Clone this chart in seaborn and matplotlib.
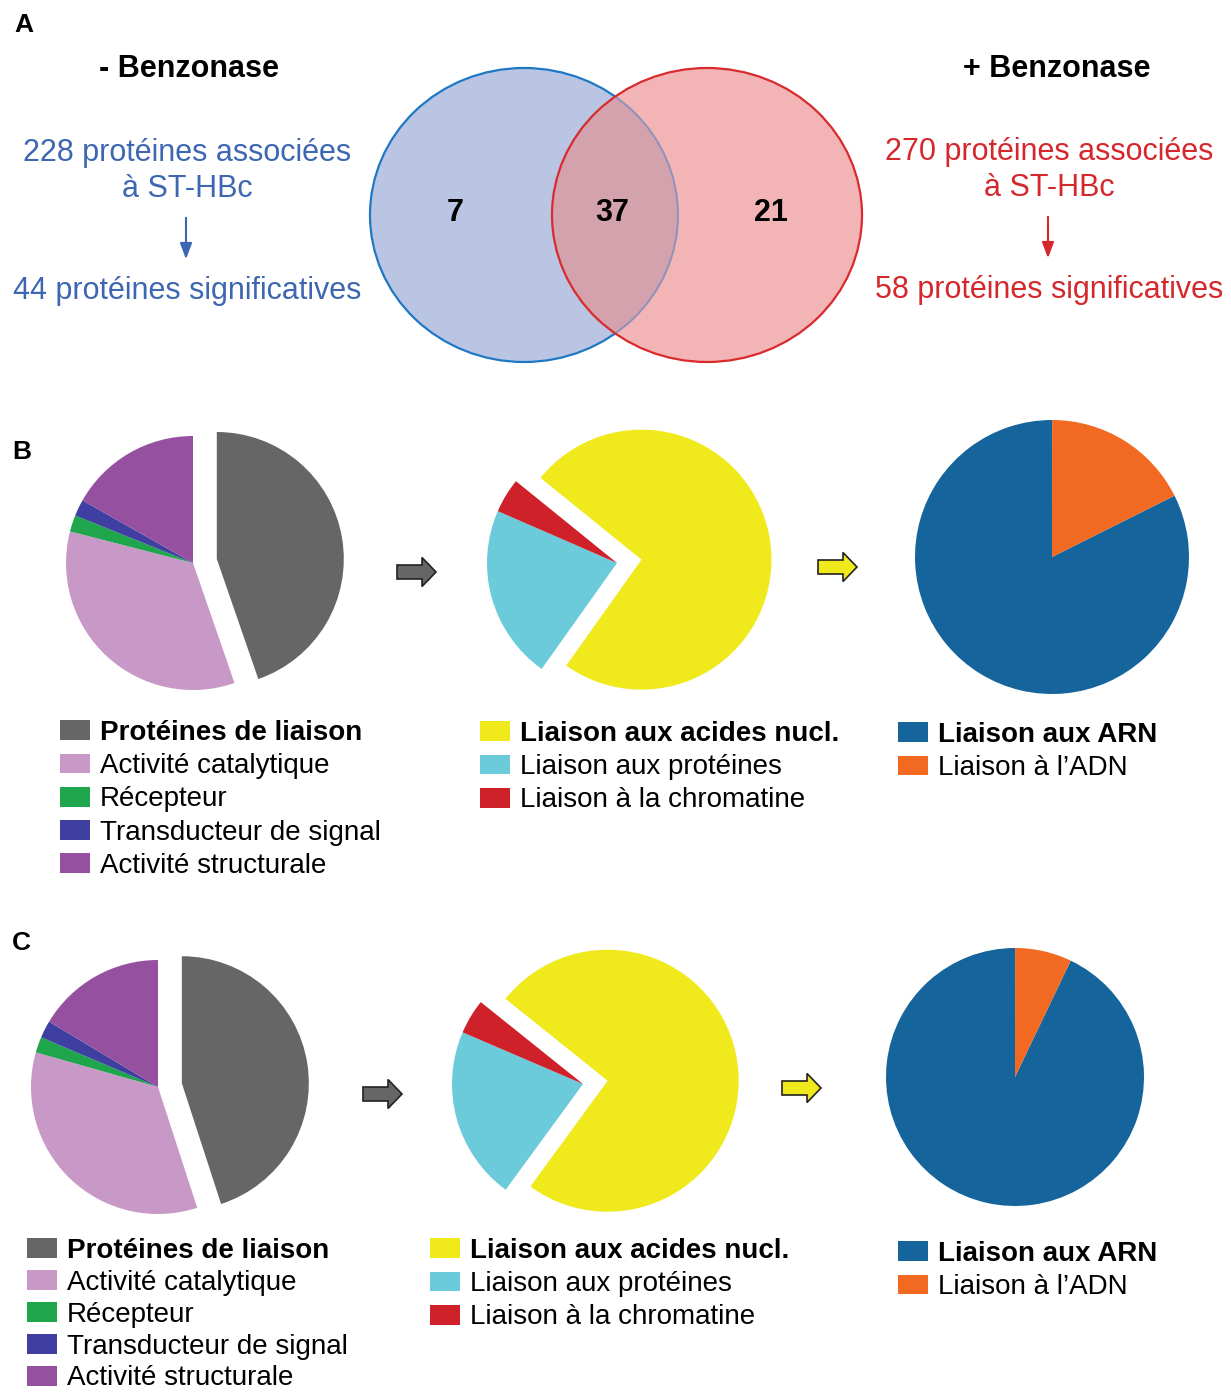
import numpy as np
import pandas as pd
import matplotlib
matplotlib.use("Agg")
import matplotlib.pyplot as plt
from matplotlib.patches import Ellipse, FancyArrow
import seaborn as sns

# ---- data ----
venn_counts = [7, 37, 21]          # only -B, both, only +B
left_total, left_signif = 228, 44
right_total, right_signif = 270, 58

fonction_labels = ["Protéines de liaison", "Activité catalytique", "Récepteur",
                   "Transducteur de signal", "Activité structurale"]
fonction_B = [44.7, 34.3, 2.1, 2.1, 16.8]
fonction_C = [45.0, 34.4, 2.0, 2.2, 16.4]

liaison_labels = ["Liaison aux acides nucl.", "Liaison aux protéines", "Liaison à la chromatine"]
liaison_B = [74.0, 21.7, 4.3]
liaison_C = [74.3, 21.4, 4.3]

acide_labels = ["Liaison aux ARN", "Liaison à l\u2019ADN"]
acide_B = [82.4, 17.6]
acide_C = [92.9, 7.1]

fonction_colors = ["#666666", "#c898c6", "#1fa54b", "#3e3fa0", "#95509f"]
liaison_colors = ["#f0e91c", "#6ccbdb", "#cf2129"]
acide_colors = ["#15649b", "#f26a22"]

sns.set_theme(style="white")
plt.rcParams["font.family"] = ["Liberation Sans", "DejaVu Sans"]
plt.rcParams["text.color"] = "black"

W, H = 1231, 1395
fig = plt.figure(figsize=(W / 100, H / 100), dpi=100)

# background axes in pixel coordinates (y down)
bg = fig.add_axes([0, 0, 1, 1])
bg.set_xlim(0, W)
bg.set_ylim(H, 0)
bg.axis("off")

BLUE_TXT = "#3d67b2"
RED_TXT = "#d5282d"

# ---- panel A : Venn ----
blue = Ellipse((524, 215), 308, 294, facecolor="#b9c5e3", edgecolor="#1f78c4", lw=1.6, zorder=1)
red = Ellipse((707, 215), 310, 294, facecolor="#f2b4b4", edgecolor="none", zorder=2)
bg.add_patch(blue)
bg.add_patch(red)
overlap = Ellipse((524, 215), 308, 294, facecolor="#d3a2ad", edgecolor="#8d92bb", lw=1.4, zorder=3)
bg.add_patch(overlap)
overlap.set_clip_path(red)
bg.add_patch(Ellipse((707, 215), 310, 294, facecolor="none", edgecolor="#d92a2e", lw=1.6, zorder=4))

for x, n in zip([455, 612, 771], venn_counts):
    bg.text(x, 213, str(n), ha="center", va="center", fontsize=22, fontweight="bold", zorder=5)

bg.text(14, 25, "A", fontsize=19, fontweight="bold", ha="left", va="center")
bg.text(12, 452, "B", fontsize=19, fontweight="bold", ha="left", va="center")
bg.text(12, 943, "C", fontsize=19, fontweight="bold", ha="left", va="center")

bg.text(189, 69, "- Benzonase", fontsize=22, fontweight="bold", ha="center", va="center")
bg.text(1057, 69, "+ Benzonase", fontsize=22, fontweight="bold", ha="center", va="center")

bg.text(187, 153, f"{left_total} protéines associées", fontsize=22, color=BLUE_TXT, ha="center", va="center")
bg.text(187, 189, "à ST-HBc", fontsize=22, color=BLUE_TXT, ha="center", va="center")
bg.text(187, 291, f"{left_signif} protéines significatives", fontsize=22, color=BLUE_TXT, ha="center", va="center")
bg.annotate("", xy=(186, 262), xytext=(186, 215),
            arrowprops=dict(arrowstyle="-|>,head_width=0.3,head_length=0.8", color=BLUE_TXT, lw=1.5))

bg.text(1049, 152, f"{right_total} protéines associées", fontsize=22, color=RED_TXT, ha="center", va="center")
bg.text(1049, 188, "à ST-HBc", fontsize=22, color=RED_TXT, ha="center", va="center")
bg.text(1049, 290, f"{right_signif} protéines significatives", fontsize=22, color=RED_TXT, ha="center", va="center")
bg.annotate("", xy=(1048, 261), xytext=(1048, 214),
            arrowprops=dict(arrowstyle="-|>,head_width=0.3,head_length=0.8", color=RED_TXT, lw=1.5))

# block arrows between pies
for (x0, y0, fc) in [(397, 572, "#666666"), (818, 567, "#f0e91c"),
                     (363, 1094, "#666666"), (782, 1088, "#f0e91c")]:
    bg.add_patch(FancyArrow(x0, y0, 39, 0, width=14, head_width=29, head_length=14,
                            length_includes_head=True, facecolor=fc, edgecolor="#222222", lw=1.2))


# ---- pies ----
def pie_at(cx, cy, r, values, colors, startangle, explode=None):
    ax = fig.add_axes([(cx - 1.5 * r) / W, 1 - (cy + 1.5 * r) / H, 3 * r / W, 3 * r / H])
    wedges, _ = ax.pie(values, colors=colors, startangle=startangle, counterclock=False,
                       explode=explode, radius=1, wedgeprops=dict(linewidth=0))
    ax.set_xlim(-1.5, 1.5)
    ax.set_ylim(-1.5, 1.5)
    ax.set_aspect("equal")
    ax.patch.set_visible(False)
    return wedges


def legend_at(handles, labels, x, y, spacing=0.26):
    leg = fig.legend(handles, labels, loc="upper left", bbox_to_anchor=(x / W, 1 - y / H),
                     frameon=False, fontsize=20, borderpad=0, borderaxespad=0,
                     handlelength=1.08, handleheight=0.72, handletextpad=0.35, labelspacing=spacing)
    leg.get_texts()[0].set_fontweight("bold")
    return leg


w = pie_at(193, 563, 127, fonction_B, fonction_colors, 90, [0.19, 0, 0, 0, 0])
legend_at(w, fonction_labels, 60, 720)
w = pie_at(617, 563, 130, liaison_B, liaison_colors, 141, [0.19, 0, 0])
legend_at(w, liaison_labels, 480, 721)
w = pie_at(1052, 557, 137, acide_B, acide_colors, 26.6)
legend_at(w, acide_labels, 898, 722)

w = pie_at(158, 1087, 127, fonction_C, fonction_colors, 90, [0.19, 0, 0, 0, 0])
legend_at(w, fonction_labels, 27, 1238, spacing=0.21)
w = pie_at(583, 1084, 131, liaison_C, liaison_colors, 141.3, [0.19, 0, 0])
legend_at(w, liaison_labels, 430, 1238)
w = pie_at(1015, 1077, 129, acide_C, acide_colors, 64.4)
legend_at(w, acide_labels, 898, 1241)

fig.savefig("out.png", dpi=100, facecolor="white")
